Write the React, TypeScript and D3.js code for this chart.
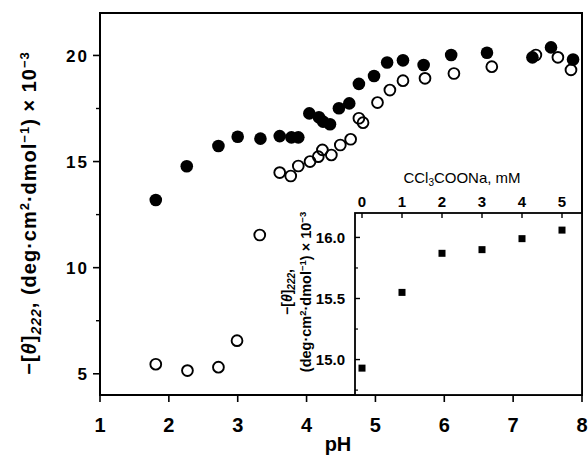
import React from "react";
import * as d3 from "d3";

// main panel: pH vs -[theta]222 (x 10^-3)
const filledPH = [1.81, 2.26, 2.72, 3.0, 3.33, 3.61, 3.78, 3.88, 4.04, 4.18, 4.24, 4.34, 4.47, 4.62, 4.76, 4.98, 5.17, 5.4, 5.7, 6.1, 6.62, 7.28, 7.55, 7.87];
const filledTheta = [13.19, 14.78, 15.73, 16.17, 16.08, 16.2, 16.14, 16.14, 17.27, 17.09, 16.88, 16.76, 17.51, 17.74, 18.66, 19.03, 19.67, 19.77, 19.55, 20.02, 20.13, 19.91, 20.38, 19.81];
const openPH = [1.81, 2.27, 2.72, 2.99, 3.32, 3.61, 3.77, 3.88, 4.05, 4.17, 4.23, 4.36, 4.49, 4.64, 4.76, 4.82, 5.03, 5.21, 5.4, 5.72, 6.14, 6.69, 7.33, 7.65, 7.84];
const openTheta = [5.45, 5.15, 5.31, 6.56, 11.54, 14.48, 14.32, 14.79, 15.0, 15.23, 15.55, 15.31, 15.78, 16.05, 17.04, 16.83, 17.78, 18.37, 18.81, 18.92, 19.15, 19.47, 20.02, 19.91, 19.32];

const xTicks = [1, 2, 3, 4, 5, 6, 7, 8];
const yTicks = [5, 10, 15, 20];
const yMinor = [7.5, 12.5, 17.5];

// inset: CCl3COONa concentration
const insetMM = [0, 1, 2, 3, 4, 5];
const insetTheta = [14.93, 15.55, 15.87, 15.9, 15.99, 16.06];
const insetYTicks = [15.0, 15.5, 16.0];
const insetYMinor = [14.75, 15.25, 15.75];

const FONT = "'Liberation Sans', Arial, Helvetica, sans-serif";

const App = () => {
  const left = 100, right = 582, top = 13, bottom = 395;
  const x = d3.scaleLinear().domain([1, 8]).range([left, right]);
  const y = d3.scaleLinear().domain([4, 22]).range([bottom, top]);

  const iLeft = 355, iTop = 213;
  const ix = d3.scaleLinear().domain([-0.175, 5.5]).range([iLeft, right]);
  const iy = d3.scaleLinear().domain([14.71, 16.2]).range([bottom, iTop]);

  const filled = filledPH.map((p, i) => [p, filledTheta[i]]);
  const open = openPH.map((p, i) => [p, openTheta[i]]);

  return (
    <svg width={588} height={460} style={{ display: "block", position: "absolute", left: 0, top: 0, background: "#fff" }} fontFamily={FONT}>
      {/* data */}
      {filled.map((d, i) => (
        <circle key={"f" + i} cx={x(d[0])} cy={y(d[1])} r={6.3} fill="#000" />
      ))}
      {open.map((d, i) => (
        <circle key={"o" + i} cx={x(d[0])} cy={y(d[1])} r={5.4} fill="none" stroke="#000" strokeWidth={1.9} />
      ))}

      {/* frame */}
      <rect x={left} y={top} width={right - left} height={bottom - top} fill="none" stroke="#000" strokeWidth={2} />

      {/* y axis */}
      {yTicks.map((t) => (
        <g key={"yt" + t}>
          <line x1={left - 7} x2={left} y1={y(t)} y2={y(t)} stroke="#000" strokeWidth={1.6} />
          <text x={89} y={y(t)} dy="0.36em" textAnchor="end" fontSize={17} fontWeight="bold" letterSpacing={2}>
            {t}
          </text>
        </g>
      ))}
      {yMinor.map((t) => (
        <line key={"ym" + t} x1={left - 4} x2={left} y1={y(t)} y2={y(t)} stroke="#000" strokeWidth={1.4} />
      ))}

      {/* x axis */}
      {xTicks.map((t) => (
        <g key={"xt" + t}>
          <line x1={x(t)} x2={x(t)} y1={bottom} y2={bottom + 7} stroke="#000" strokeWidth={1.6} />
          <text x={x(t)} y={432} textAnchor="middle" fontSize={20} fontWeight="bold">
            {t}
          </text>
        </g>
      ))}
      <text x={338} y={451} textAnchor="middle" fontSize={20} fontWeight="bold">pH</text>

      {/* y label */}
      <text transform="translate(36,213) rotate(-90)" textAnchor="middle" fontSize={20} fontWeight="bold" letterSpacing={1}>
        −[<tspan fontStyle="italic">θ</tspan>]
        <tspan dy={5} fontSize={14} fontStyle="italic">222</tspan>
        <tspan dy={-5}>, (deg·cm</tspan>
        <tspan dy={-7} fontSize={13}>2</tspan>
        <tspan dy={7}>·dmol</tspan>
        <tspan dy={-7} fontSize={13}>−1</tspan>
        <tspan dy={7}>) × 10</tspan>
        <tspan dy={-7} fontSize={13}>−3</tspan>
      </text>

      {/* inset */}
      <rect x={iLeft} y={iTop} width={right - iLeft} height={bottom - iTop} fill="#fff" stroke="#000" strokeWidth={1.8} />
      {insetMM.map((t) => (
        <g key={"ix" + t}>
          <line x1={ix(t)} x2={ix(t)} y1={iTop} y2={iTop + 5} stroke="#000" strokeWidth={1.4} />
          <text x={ix(t)} y={207} textAnchor="middle" fontSize={15} fontWeight="bold">
            {t}
          </text>
        </g>
      ))}
      <text x={462} y={183} textAnchor="middle" fontSize={15}>
        CCl<tspan dy={3} fontSize={10}>3</tspan>
        <tspan dy={-3}>COONa, mM</tspan>
      </text>
      {insetYTicks.map((t) => (
        <g key={"iy" + t}>
          <line x1={iLeft} x2={iLeft + 5} y1={iy(t)} y2={iy(t)} stroke="#000" strokeWidth={1.4} />
          <text x={345} y={iy(t)} dy="0.36em" textAnchor="end" fontSize={15} fontWeight="bold">
            {t.toFixed(1)}
          </text>
        </g>
      ))}
      {insetYMinor.map((t) => (
        <line key={"iym" + t} x1={iLeft} x2={iLeft + 3} y1={iy(t)} y2={iy(t)} stroke="#000" strokeWidth={1.2} />
      ))}
      {insetMM.map((m, i) => (
        <rect key={"sq" + i} x={ix(m) - 3.5} y={iy(insetTheta[i]) - 3.5} width={7} height={7} fill="#000" />
      ))}
      <text transform="translate(292,292) rotate(-90)" textAnchor="middle" fontSize={14} fontWeight="bold">
        −[<tspan fontStyle="italic">θ</tspan>]
        <tspan dy={3} fontSize={10} fontStyle="italic">222</tspan>
        <tspan dy={-3}>,</tspan>
      </text>
      <text transform="translate(311,292) rotate(-90)" textAnchor="middle" fontSize={14.5} fontWeight="bold">
        (deg·cm<tspan dy={-5} fontSize={9.5}>2</tspan>
        <tspan dy={5}>·dmol</tspan>
        <tspan dy={-5} fontSize={9.5}>−1</tspan>
        <tspan dy={5}>) × 10</tspan>
        <tspan dy={-5} fontSize={9.5}>−3</tspan>
      </text>
    </svg>
  );
};

export default App;
